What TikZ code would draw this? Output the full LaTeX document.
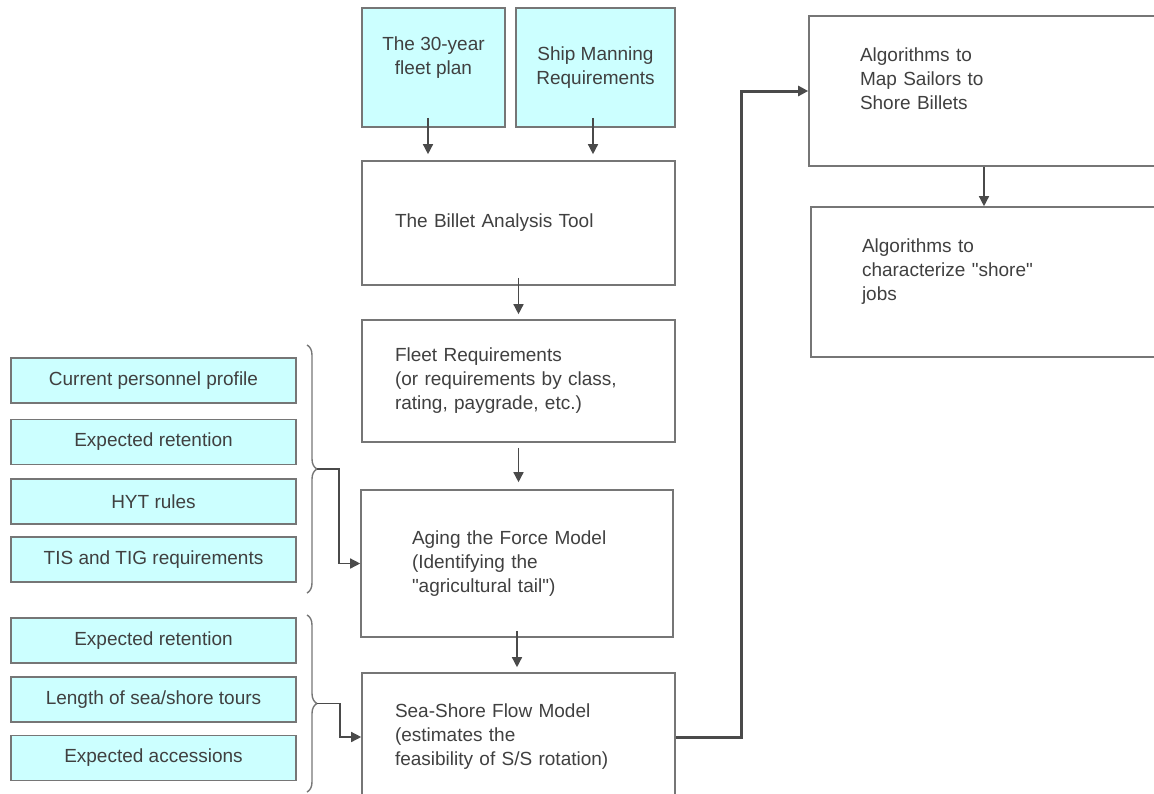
\documentclass[tikz,border=0pt]{standalone}
\usepackage{fontspec}
\newfontfamily\diagramfont{Liberation Sans}
\usetikzlibrary{arrows.meta,decorations.pathreplacing}
\definecolor{inputcyan}{HTML}{CCFFFF}
\definecolor{boxline}{HTML}{767676}
\definecolor{inktext}{HTML}{404040}
\definecolor{flowline}{HTML}{4A4A4A}
\begin{document}
\begin{tikzpicture}[x=1pt,y=-1pt,
		font=\diagramfont\fontsize{19}{24}\selectfont,
		inbox/.style={draw=boxline,line width=1.6pt,fill=inputcyan,text=inktext,align=center,inner sep=0pt},
		stagebox/.style={draw=boxline,line width=1.6pt,fill=white,text=inktext,align=left,inner ysep=0pt},
		flow/.style={draw=flowline,line width=1.4pt,-{Triangle[length=10pt,width=10pt]}},
		bracket/.style={draw=boxline,line width=1.4pt,decorate,decoration={brace,amplitude=10pt}}]
		\useasboundingbox (0,0) rectangle (1154,793);
		\clip (0,0) rectangle (1154,793);
		% sources on top
		\node[inbox,minimum width=143pt,minimum height=119pt] (plan) at (433.5,67.5) {The 30-year\\fleet plan\\ \mbox{}};
		\node[inbox,minimum width=159pt,minimum height=119pt] (manning) at (595.5,67.5) {Ship Manning\\Requirements};
		% main chain
		\node[stagebox,minimum height=124pt,text width=247pt,inner xsep=33pt] (billet) at (518.5,223) {The Billet Analysis Tool};
		\node[stagebox,minimum height=122pt,text width=247pt,inner xsep=33pt] (fleet) at (518.5,381) {Fleet Requirements\\(or requirements by class,\\rating, paygrade, etc.)};
		\node[stagebox,minimum height=147pt,text width=210pt,inner xsep=51pt] (aging) at (517,563.5) {Aging the Force Model\\(Identifying the\\"agricultural tail")};
		\node[stagebox,minimum height=128pt,text width=247pt,inner xsep=33pt] (sea) at (518.5,737) {Sea-Shore Flow Model\\(estimates the\\feasibility of S/S rotation)};
		% right column
		\node[stagebox,minimum height=150pt,text width=248pt,inner xsep=51pt] (map) at (984,91) {Algorithms to\\Map Sailors to\\Shore Billets\\ \mbox{}};
		\node[stagebox,minimum height=150pt,text width=244pt,inner xsep=51pt] (jobs) at (984,282) {Algorithms to\\characterize "shore"\\jobs\\ \mbox{}};
		% inputs on the left
		\node[inbox,minimum width=285pt,minimum height=45pt] (profile) at (153.5,380.5) {Current personnel profile};
		\node[inbox,minimum width=285pt,minimum height=45pt] (retain) at (153.5,442) {Expected retention};
		\node[inbox,minimum width=285pt,minimum height=45pt] (hyt) at (153.5,501.5) {HYT rules};
		\node[inbox,minimum width=285pt,minimum height=45pt] (tis) at (153.5,559.5) {TIS and TIG requirements};
		\node[inbox,minimum width=285pt,minimum height=45pt] (retain2) at (153.5,640.5) {Expected retention};
		\node[inbox,minimum width=285pt,minimum height=45pt] (tours) at (153.5,699.5) {Length of sea/shore tours};
		\node[inbox,minimum width=285pt,minimum height=45pt] (access) at (153.5,758) {Expected accessions};
		% braces
		\draw[bracket] (307,345) -- (307,593);
		\draw[bracket] (307,615) -- (307,792);
		\coordinate (tip1) at (317,469);
		\coordinate (tip2) at (317,703.5);
		% arrows
		\draw[flow] ([xshift=-5.5pt,yshift=10pt]plan.south) -- ([xshift=-5.5pt,yshift=6pt]plan.south |- billet.north);
		\draw[flow] ([xshift=-2.5pt,yshift=10pt]manning.south) -- ([xshift=-2.5pt,yshift=6pt]manning.south |- billet.north);
		\draw[flow] ([yshift=8pt]billet.south) -- ([yshift=5pt]fleet.north);
		\draw[flow] ([yshift=-5pt]fleet.south) -- ([yshift=7pt]fleet.south |- aging.north);
		\draw[flow] ([yshift=7pt]aging.south) -- ([yshift=5pt]aging.south |- sea.north);
		\draw[flow] (map.south) -- (jobs.north);
		\draw[flow] (tip1) -- ++(22,0) |- (aging.west);
		\draw[flow] (tip2) -- ++(23,0) |- (sea.west);
		\draw[flow,line width=3pt] (sea.east) -- ++(66,0) |- (map.west);
	\end{tikzpicture}
\end{document}
